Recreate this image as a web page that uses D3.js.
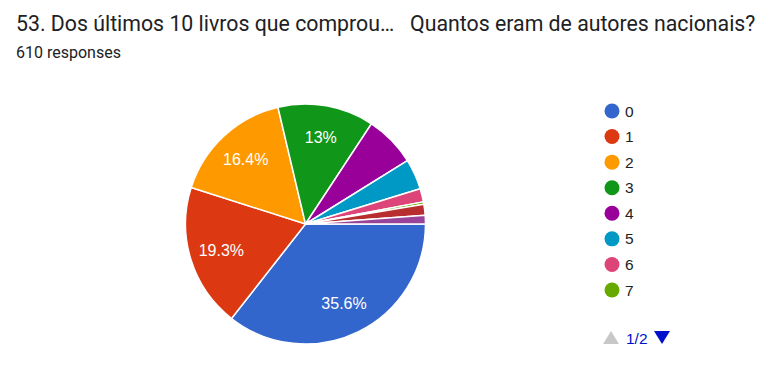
<!DOCTYPE html>
<html><head><meta charset="utf-8">
<script src="https://cdn.jsdelivr.net/npm/d3@7"></script>
<style>body{margin:0;background:#fff}svg{display:block}text{white-space:pre}</style>
</head><body>
<script>
const categories = ["0","1","2","3","4","5","6","7","8","9","10"];
const counts = [217,118,100,79,42,25,11,2,9,0,7];
const colors = ["#3366cc","#dc3912","#ff9900","#109618","#990099","#0099c6","#dd4477","#66aa00","#b82e2e","#316395","#994499"];
const legendShown = 8;
const titleText = "53. Dos últimos 10 livros que comprou…   Quantos eram de autores nacionais?";
const subtitleText = "610 responses";

const W=772,H=369;
const svg=d3.select("body").append("svg").attr("width",W).attr("height",H);
svg.append("text").attr("x",16).attr("y",31).attr("font-family","Roboto").attr("font-size",21.3).attr("fill","#202124").text(titleText);
svg.append("text").attr("x",16).attr("y",58).attr("font-family","Roboto").attr("font-size",16).attr("fill","#202124").text(subtitleText);

const cx=305.5, cy=224, r=120;
const total=d3.sum(counts);
const data=categories.map((c,i)=>({c,v:counts[i],col:colors[i]}));
const pie=d3.pie().value(d=>d.v).sort(null).startAngle(Math.PI/2).endAngle(Math.PI/2+2*Math.PI);
const arcs=pie(data);
const arc=d3.arc().innerRadius(0).outerRadius(r);
const g=svg.append("g").attr("transform",`translate(${cx},${cy})`);
g.selectAll("path").data(arcs.filter(a=>a.data.v>0)).join("path").attr("d",arc).attr("fill",d=>d.data.col).attr("stroke","#fff").attr("stroke-width",1.5);
const lab=d3.arc().innerRadius(88).outerRadius(88);
g.selectAll("text").data(arcs.filter(a=>a.data.v/total>0.1)).join("text")
  .attr("transform",d=>`translate(${lab.centroid(d)})`)
  .attr("text-anchor","middle").attr("dy","0.36em")
  .attr("font-family","Liberation Sans, Arial").attr("font-size",16).attr("fill","#fff")
  .text(d=>{const p=d.data.v/total*100;return (Math.round(p*10)/10)+"%";});

const lg=svg.append("g");
const ly=d3.scaleLinear().domain([0,legendShown-1]).range([111,290]);
data.slice(0,legendShown).forEach((d,i)=>{
  lg.append("circle").attr("cx",612).attr("cy",ly(i)).attr("r",7.5).attr("fill",d.col);
  lg.append("text").attr("x",625).attr("y",ly(i)).attr("dy","0.36em").attr("font-family","Liberation Sans, Arial").attr("font-size",15.5).attr("fill","#222").text(d.c);
});
lg.append("path").attr("d","M603,344 L619,344 L611,331 Z").attr("fill","#c8c8c8");
lg.append("text").attr("x",626).attr("y",338).attr("dy","0.36em").attr("font-family","Liberation Sans, Arial").attr("font-size",15.5).attr("fill","#0011cc").text("1/2");
lg.append("path").attr("d","M654,331 L670,331 L662,344 Z").attr("fill","#0011cc");
</script>
</body></html>
